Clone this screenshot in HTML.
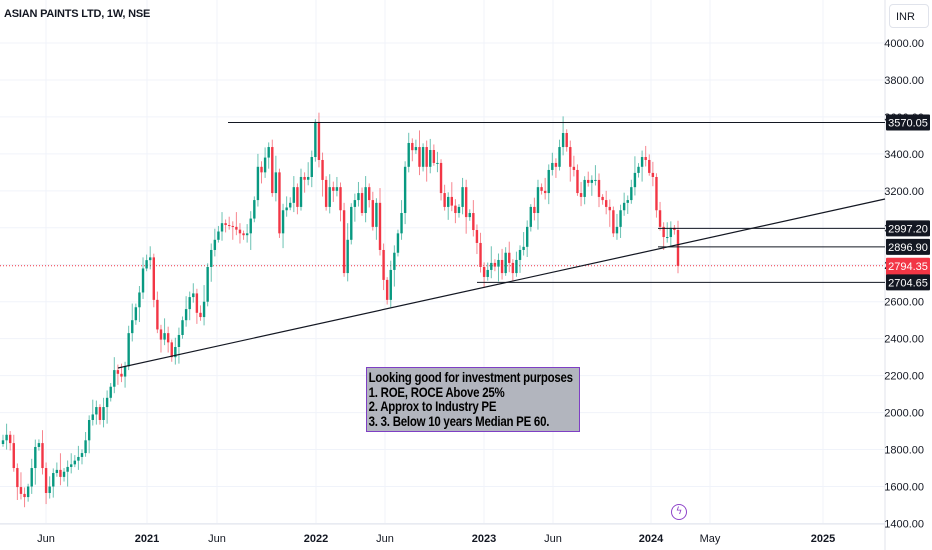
<!DOCTYPE html>
<html><head><meta charset="utf-8">
<style>
body{margin:0;background:#fff;overflow:hidden}
svg{display:block;font-family:"Liberation Sans",sans-serif}
</style></head><body>
<svg id="c" width="932" height="550"></svg>
<script>
const closes=[1850,1880,1835,1700,1597,1560,1543,1600,1700,1814,1835,1700,1565,1600,1673,1690,1652,1680,1706,1720,1740,1760,1781,1850,1960,1990,2030,1960,2030,2080,2140,2230,2210,2195,2250,2430,2500,2570,2650,2780,2825,2840,2610,2450,2395,2430,2380,2300,2355,2420,2500,2560,2625,2645,2540,2517,2600,2788,2880,2935,2980,3025,3015,3010,3005,2990,2970,2960,2970,3050,3150,3330,3300,3380,3437,3188,3300,2970,3095,3110,3135,3220,3113,3275,3260,3275,3383,3573,3367,3259,3113,3220,3200,3220,3095,2755,2935,3113,3150,3188,3080,3220,3150,3005,3135,2880,2718,2610,2772,2865,2970,3080,3330,3459,3420,3437,3330,3437,3330,3421,3351,3351,3188,3113,3167,3120,3080,3113,3220,3058,3080,2988,2918,2788,2734,2772,2810,2790,2826,2755,2865,2810,2755,2826,2880,2897,3005,3113,3080,3220,3200,3188,3313,3351,3330,3437,3513,3437,3330,3313,3188,3167,3259,3243,3259,3259,3167,3150,3113,3095,2970,3005,3095,3135,3150,3220,3297,3330,3383,3367,3297,3275,3095,3005,2950,2950,3000,2988,2794];
const wicks=[30,60,20,45,25,80,35,15,50,40,20,70,30,55,25,40,90,20,35,60];
const yTicks=[1400,1600,1800,2000,2200,2400,2600,2800,3000,3200,3400,3600,3800,4000];
const xLabels=["Jun","2021","Jun","2022","Jun","2023","Jun","2024","May","2025"];
const xLabelPos=[46,147,217,316,385,484,553,651,710,823];
const levels=[3570.05,2997.20,2896.90,2704.65];
const lastPrice=2794.35;

const svg=document.getElementById('c');
const NS='http://www.w3.org/2000/svg';
const PW=885;
function y(p){return 43+(4000-p)*0.1848;}
function mk(t,a,p){const e=document.createElementNS(NS,t);for(const k in a)e.setAttribute(k,a[k]);(p||svg).appendChild(e);return e;}

yTicks.forEach(v=>{
  const l=mk('line',{x1:0,x2:PW,y1:y(v),y2:y(v),stroke:'#f0f3fa'});
  
  
});
xLabelPos.forEach(x=>{
  const l=mk('line',{x1:x,x2:x,y1:0,y2:524,stroke:'#f0f3fa'});
  
  
});
mk('line',{x1:PW,x2:PW,y1:0,y2:550,stroke:'#e0e3eb'});
mk('line',{x1:0,x2:PW,y1:524,y2:524,stroke:'#e0e3eb'});

yTicks.forEach(v=>{
  const t=mk('text',{x:924,y:y(v)+4,'text-anchor':'end','font-size':11,fill:'#131722'});
  t.textContent=v.toFixed(2);
  
  
});
xLabels.forEach((s,i)=>{
  const bold=/^\d/.test(s);
  const t=mk('text',{x:xLabelPos[i],y:542,'text-anchor':'middle','font-size':11,'font-weight':bold?'bold':'normal',fill:'#131722'});
  t.textContent=s;
  
  
});

const lp=mk('line',{x1:0,x2:PW,y1:y(lastPrice),y2:y(lastPrice),stroke:'#f23645','stroke-dasharray':'1,2','stroke-width':1});



const n=closes.length,x0=3,x1=678,step=(x1-x0)/(n-1);
const g=mk('g',{});


for(let i=0;i<n;i++){
  const c=closes[i],o=i?closes[i-1]:closes[0]-20;
  const w=wicks[i%wicks.length];
  const hi=Math.max(o,c)+w,lo=Math.min(o,c)-wicks[(i+7)%wicks.length];
  const col=c>=o?'#089981':'#f23645';
  const x=x0+i*step;
  const wk=mk('line',{x1:x,x2:x,y1:y(hi),y2:y(lo),stroke:col,'stroke-opacity':0.6,'stroke-width':1},g);
  
  
  const top=y(Math.max(o,c)),bot=y(Math.min(o,c));
  const b=mk('rect',{x:x-1.2,y:top,width:2.4,height:Math.max(1,bot-top),fill:col},g);
  
  
}

const d1=mk('line',{x1:228,x2:PW,y1:y(levels[0]),y2:y(levels[0]),stroke:'#131722','stroke-width':1});

const d2=mk('line',{x1:658,x2:PW,y1:y(levels[1]),y2:y(levels[1]),stroke:'#131722'});

const d3=mk('line',{x1:658,x2:PW,y1:y(levels[2]),y2:y(levels[2]),stroke:'#131722'});

const d4=mk('line',{x1:477,x2:PW,y1:y(levels[3]),y2:y(levels[3]),stroke:'#131722'});

const tl=mk('line',{x1:118,y1:368,x2:PW,y2:199,stroke:'#131722','stroke-width':1.2});


function tag(v,bg,extra){
  const yy=y(v);
  const h=extra?32:16;
  const r=mk('rect',{x:886,y:yy-8,width:44,height:h,fill:bg,rx:1});
  
  const t=mk('text',{x:908,y:yy+4,'text-anchor':'middle','font-size':11,fill:'#fff'});
  t.textContent=v.toFixed(2);
  
  if(extra){const t2=mk('text',{x:908,y:yy+20,'text-anchor':'middle','font-size':11,fill:'#fff'});t2.textContent=extra;
    }
}
tag(levels[0],'#131722');tag(levels[1],'#131722');tag(levels[2],'#131722');
tag(lastPrice,'#f23645','1d 8h');tag(levels[3],'#131722');
</script>
<div style="position:absolute;left:4px;top:8px;font:bold 11px 'Liberation Sans',sans-serif;color:#131722;letter-spacing:-0.2px">ASIAN PAINTS LTD, 1W, NSE</div>
<div style="position:absolute;left:889px;top:4px;width:40px;height:24px;border:1px solid #e0e3eb;border-radius:4px;box-sizing:border-box;font:11px 'Liberation Sans',sans-serif;color:#131722;padding:6px 0 0 6px;background:#fff">INR</div>
<div style="position:absolute;left:366px;top:367px;width:214px;height:65px;box-sizing:border-box;background:#b2b5be;border:1.5px solid #7e3fc4;overflow:hidden">
<div style="font:bold 14px 'Liberation Sans',sans-serif;line-height:14.5px;color:#000;padding:2px 0 0 2px;white-space:nowrap;letter-spacing:-0.3px;transform:scaleX(0.82);transform-origin:left top">Looking good for investment purposes<br>1. ROE, ROCE Above 25%<br>2. Approx to Industry PE<br>3. 3. Below 10 years Median PE 60.</div></div>
<div style="position:absolute;left:671px;top:504px;width:14px;height:14px;border:1.5px solid #8e44c9;border-radius:50%;color:#8e44c9;font:10px 'DejaVu Sans',sans-serif;text-align:center;line-height:14px">ϟ</div>
</body></html>
